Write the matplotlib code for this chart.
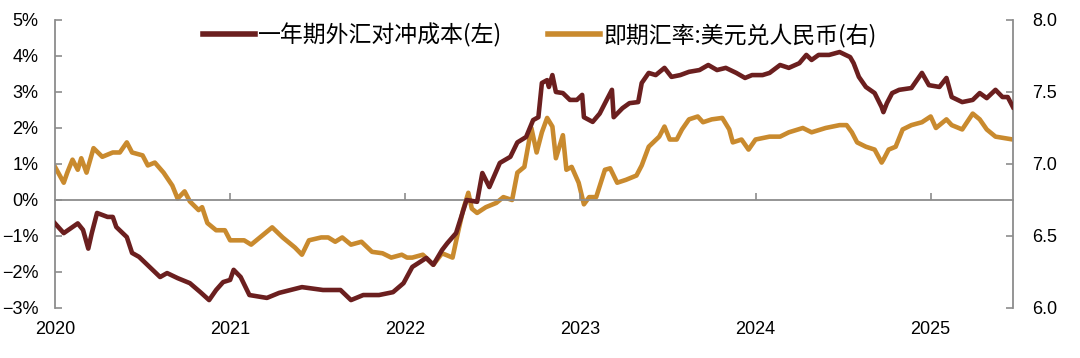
import matplotlib
matplotlib.use("Agg")
import matplotlib.pyplot as plt
import matplotlib.transforms as mtransforms
from matplotlib.lines import Line2D

# ---- data (decimal years) ----
hedge_t = [2020.00, 2020.05, 2020.13, 2020.16, 2020.19, 2020.21, 2020.24, 2020.30, 2020.33, 2020.35,
           2020.41, 2020.44, 2020.48, 2020.54, 2020.60, 2020.64, 2020.70, 2020.77, 2020.83, 2020.88,
           2020.92, 2020.96, 2021.00, 2021.02, 2021.06, 2021.11, 2021.21, 2021.28, 2021.41, 2021.53,
           2021.63, 2021.69, 2021.76, 2021.85, 2021.93, 2021.99, 2022.04, 2022.12, 2022.16, 2022.21,
           2022.24, 2022.29, 2022.35, 2022.41, 2022.44, 2022.48, 2022.54, 2022.60, 2022.64, 2022.69,
           2022.73, 2022.76, 2022.78, 2022.81, 2022.82, 2022.84, 2022.86, 2022.90, 2022.94, 2022.98,
           2023.01, 2023.02, 2023.07, 2023.11, 2023.15, 2023.18, 2023.19, 2023.24, 2023.28, 2023.33,
           2023.35, 2023.39, 2023.43, 2023.48, 2023.52, 2023.57, 2023.62, 2023.68, 2023.73, 2023.78,
           2023.83, 2023.89, 2023.94, 2023.98, 2024.04, 2024.08, 2024.14, 2024.19, 2024.25, 2024.29,
           2024.32, 2024.36, 2024.42, 2024.48, 2024.54, 2024.56, 2024.59, 2024.63, 2024.68, 2024.72,
           2024.73, 2024.75, 2024.78, 2024.82, 2024.89, 2024.95, 2024.99, 2025.05, 2025.09, 2025.12,
           2025.18, 2025.24, 2025.28, 2025.32, 2025.37, 2025.41, 2025.44, 2025.47]
hedge_cost = [-0.65, -0.92, -0.65, -0.83, -1.35, -0.92, -0.36, -0.47, -0.47, -0.75,
              -1.03, -1.47, -1.58, -1.86, -2.14, -2.03, -2.17, -2.31, -2.56, -2.78,
              -2.50, -2.28, -2.22, -1.94, -2.14, -2.64, -2.72, -2.58, -2.42, -2.50,
              -2.50, -2.78, -2.64, -2.64, -2.56, -2.31, -1.86, -1.61, -1.80, -1.39,
              -1.20, -0.92, 0.00, -0.05, 0.75, 0.36, 1.03, 1.20, 1.60, 1.75,
              2.22, 2.30, 3.25, 3.33, 3.14, 3.47, 3.00, 2.97, 2.78, 2.78,
              2.92, 2.30, 2.17, 2.40, 2.78, 3.06, 2.30, 2.55, 2.69, 2.72,
              3.25, 3.53, 3.47, 3.67, 3.42, 3.47, 3.56, 3.61, 3.75, 3.61,
              3.67, 3.53, 3.39, 3.47, 3.47, 3.53, 3.75, 3.67, 3.80, 4.03,
              3.89, 4.03, 4.03, 4.11, 3.97, 3.80, 3.42, 3.14, 2.97, 2.58,
              2.44, 2.69, 2.97, 3.06, 3.11, 3.53, 3.19, 3.14, 3.39, 2.86,
              2.72, 2.78, 2.97, 2.83, 3.06, 2.86, 2.86, 2.58]

fx_t = [2020.00, 2020.05, 2020.07, 2020.10, 2020.13, 2020.15, 2020.18, 2020.22, 2020.27, 2020.33,
        2020.37, 2020.41, 2020.44, 2020.50, 2020.53, 2020.57, 2020.62, 2020.67, 2020.70, 2020.74,
        2020.77, 2020.82, 2020.84, 2020.87, 2020.92, 2020.97, 2021.00, 2021.03, 2021.08, 2021.12,
        2021.17, 2021.20, 2021.24, 2021.30, 2021.37, 2021.41, 2021.45, 2021.52, 2021.56, 2021.60,
        2021.64, 2021.69, 2021.75, 2021.81, 2021.87, 2021.92, 2021.98, 2022.01, 2022.04, 2022.10,
        2022.16, 2022.21, 2022.27, 2022.30, 2022.33, 2022.36, 2022.38, 2022.41, 2022.46, 2022.52,
        2022.56, 2022.61, 2022.64, 2022.68, 2022.72, 2022.75, 2022.78, 2022.81, 2022.84, 2022.86,
        2022.90, 2022.92, 2022.95, 2022.99, 2023.02, 2023.05, 2023.09, 2023.14, 2023.17, 2023.21,
        2023.26, 2023.32, 2023.35, 2023.39, 2023.45, 2023.48, 2023.51, 2023.55, 2023.58, 2023.62,
        2023.67, 2023.70, 2023.75, 2023.81, 2023.85, 2023.87, 2023.92, 2023.96, 2024.00, 2024.08,
        2024.14, 2024.19, 2024.27, 2024.32, 2024.40, 2024.48, 2024.52, 2024.55, 2024.58, 2024.63,
        2024.68, 2024.72, 2024.73, 2024.76, 2024.80, 2024.84, 2024.89, 2024.95, 2025.00, 2025.03,
        2025.09, 2025.12, 2025.18, 2025.24, 2025.28, 2025.32, 2025.37, 2025.47]
usdcny = [6.98, 6.87, 6.94, 7.03, 6.96, 7.04, 6.94, 7.11, 7.05, 7.08,
          7.08, 7.15, 7.08, 7.06, 6.99, 7.01, 6.94, 6.85, 6.76, 6.81,
          6.74, 6.68, 6.70, 6.59, 6.54, 6.54, 6.47, 6.47, 6.47, 6.44,
          6.49, 6.52, 6.56, 6.49, 6.42, 6.37, 6.47, 6.49, 6.49, 6.46,
          6.49, 6.44, 6.46, 6.39, 6.38, 6.35, 6.37, 6.35, 6.35, 6.37,
          6.30, 6.38, 6.35, 6.52, 6.68, 6.80, 6.69, 6.66, 6.70, 6.73,
          6.77, 6.75, 6.94, 6.98, 7.25, 7.08, 7.22, 7.32, 7.26, 7.04,
          7.20, 6.96, 6.98, 6.87, 6.72, 6.77, 6.77, 6.96, 6.97, 6.87,
          6.89, 6.92, 6.99, 7.12, 7.19, 7.26, 7.17, 7.17, 7.24, 7.31,
          7.33, 7.29, 7.31, 7.32, 7.24, 7.15, 7.17, 7.10, 7.17, 7.19,
          7.19, 7.22, 7.25, 7.22, 7.25, 7.27, 7.27, 7.22, 7.15, 7.12,
          7.10, 7.01, 7.03, 7.10, 7.12, 7.24, 7.27, 7.29, 7.33, 7.25,
          7.31, 7.27, 7.24, 7.35, 7.31, 7.24, 7.19, 7.17]

years = [2020, 2021, 2022, 2023, 2024, 2025]
left_ticks = [-3, -2, -1, 0, 1, 2, 3, 4, 5]
right_ticks = [6.0, 6.5, 7.0, 7.5, 8.0]
label_hedge = "一年期外汇对冲成本(左)"
label_fx = "即期汇率:美元兑人民币(右)"

# ---- styling ----
C_RED = "#6B1F1F"
C_ORG = "#C98A2E"
C_AX = "#8C8C8C"
TICK_FONT = ["Liberation Sans", "DejaVu Sans"]
CJK_FONT = ["Noto Sans CJK SC", "DejaVu Sans"]

fig = plt.figure(figsize=(10.8, 3.58), dpi=100)
ax = fig.add_axes([55 / 1080, 1 - 308 / 358, (1013 - 55) / 1080, 288 / 358])
ax2 = ax.twinx()

ax.plot(hedge_t, hedge_cost, color=C_RED, lw=3.3, solid_joinstyle="round", zorder=3)
ax2.plot(fx_t, usdcny, color=C_ORG, lw=3.3, solid_joinstyle="round", zorder=2)
ax.set_zorder(ax2.get_zorder() + 1)
ax.patch.set_visible(False)

ax.set_xlim(2020.0, 2025.47)
ax.set_ylim(-3, 5)
ax2.set_ylim(6.0, 8.0)

for a in (ax, ax2):
    for s in a.spines.values():
        s.set_visible(False)

ax.spines["left"].set_visible(True)
ax.spines["left"].set_color(C_AX)
ax.spines["left"].set_linewidth(1.3)
ax2.spines["right"].set_visible(True)
ax2.spines["right"].set_color(C_AX)
ax2.spines["right"].set_linewidth(1.3)

ax.spines["bottom"].set_visible(True)
ax.spines["bottom"].set_position(("data", 0))
ax.spines["bottom"].set_color(C_AX)
ax.spines["bottom"].set_linewidth(1.3)

ax.set_yticks(left_ticks)
ax.set_yticklabels([("\u2212" if v < 0 else "") + f"{abs(v)}%" for v in left_ticks],
                   fontfamily=TICK_FONT, fontsize=13)
ax.tick_params(axis="y", direction="in", length=5, width=1.2, color=C_AX, pad=12)

ax2.set_yticks(right_ticks)
ax2.set_yticklabels([f"{v:.1f}" for v in right_ticks], fontfamily=TICK_FONT, fontsize=13)
ax2.tick_params(axis="y", direction="in", length=5, width=1.2, color=C_AX, pad=14)

ax.set_xticks(years[1:])
ax.tick_params(axis="x", direction="in", length=5, width=1.2, color=C_AX, labelbottom=False)

trans = mtransforms.blended_transform_factory(ax.transData, ax.transAxes)
for y in years:
    ax.text(y, -0.076, str(y), transform=trans, ha="center", va="center",
            fontfamily=TICK_FONT, fontsize=13)

handles = [Line2D([], [], color=C_RED, lw=4), Line2D([], [], color=C_ORG, lw=4)]
fig.legend(handles, [label_hedge, label_fx], loc="center", bbox_to_anchor=(0.5, 0.902),
           ncol=2, frameon=False, handlelength=2.25, handletextpad=0.15, columnspacing=2.0,
           prop={"family": CJK_FONT, "size": 16.5})

fig.savefig("out.png", dpi=100)
